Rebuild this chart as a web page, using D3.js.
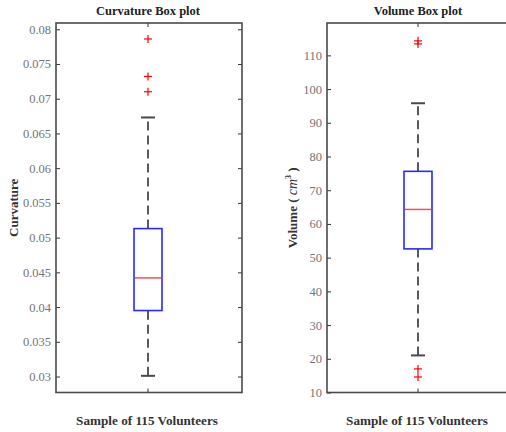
<!DOCTYPE html>
<html>
<head>
<meta charset="utf-8">
<script src="https://cdn.jsdelivr.net/npm/d3@7"></script>
<style>
  body { margin: 0; background: #fff; }
  svg { display: block; }
</style>
</head>
<body>
<div id="chart"></div>
<script>
// values
// box = [lower whisker, q1, median, q3, upper whisker]
var titles = ["Curvature Box plot", "Volume Box plot"];
var xLabel = "Sample of 115 Volunteers";

var curvatureBox = [0.0301, 0.0395, 0.0442, 0.0513, 0.0673];
var curvatureOutliers = [0.0710, 0.0732, 0.0786];
var curvatureTicks = [0.03, 0.035, 0.04, 0.045, 0.05, 0.055, 0.06, 0.065, 0.07, 0.075, 0.08];
var curvatureDomain = [0.0277, 0.0809];

var volumeBox = [21.0, 52.6, 64.3, 75.6, 95.8];
var volumeOutliers = [14.6, 17.0, 113.4, 114.3];
var volumeTicks = [10, 20, 30, 40, 50, 60, 70, 80, 90, 100, 110];
var volumeDomain = [10, 119.6];

var W = 506, H = 432;
var serif = "'Liberation Serif', 'DejaVu Serif', serif";

var svg = d3.select("#chart").append("svg")
    .attr("width", W)
    .attr("height", H);

function panel(opt) {
    var left = opt.left, right = opt.right, top = 23, bottom = 392.5;
    var g = svg.append("g");

    var y = d3.scaleLinear().domain(opt.domain).range([bottom, top]);
    var x = d3.scalePoint().domain([0]).range([left, right]).padding(0.5);
    var cx = x(0) - 1;

    // ticks on left and right, inward
    var yAxisL = d3.axisLeft(y).tickValues(opt.ticks).tickSize(-4).tickPadding(5)
        .tickFormat(function(d) { return String(d); });
    var ga = g.append("g").attr("transform", "translate(" + left + ",0)").call(yAxisL);
    ga.select(".domain").remove();
    ga.selectAll(".tick line").attr("stroke", "#333").attr("stroke-width", 1);
    ga.selectAll(".tick text")
        .attr("font-family", serif).attr("font-size", 12.5).attr("fill", "#757575");

    var gr = g.append("g").attr("transform", "translate(" + right + ",0)")
        .call(d3.axisRight(y).tickValues(opt.ticks).tickSize(-4).tickFormat(""));
    gr.select(".domain").remove();
    gr.selectAll(".tick line").attr("stroke", "#333").attr("stroke-width", 1);

    // top / bottom tick at the box position
    g.append("line").attr("x1", cx).attr("x2", cx).attr("y1", top).attr("y2", top + 4)
        .attr("stroke", "#333");
    g.append("line").attr("x1", cx).attr("x2", cx).attr("y1", bottom).attr("y2", bottom - 4)
        .attr("stroke", "#333");

    // frame
    g.append("rect").attr("x", left).attr("y", top)
        .attr("width", right - left).attr("height", bottom - top)
        .attr("fill", "none").attr("stroke", "#4a4a4a").attr("stroke-width", 1.6);

    var b = opt.box;
    var bw = opt.boxWidth;

    // whiskers
    g.selectAll(".whisker").data([[b[0], b[1]], [b[3], b[4]]]).enter().append("line")
        .attr("x1", cx).attr("x2", cx)
        .attr("y1", function(d) { return y(d[0]); })
        .attr("y2", function(d) { return y(d[1]); })
        .attr("stroke", "#5a5a5a").attr("stroke-width", 2)
        .attr("stroke-dasharray", "9,5");
    g.selectAll(".cap").data([b[0], b[4]]).enter().append("line")
        .attr("x1", cx - 7).attr("x2", cx + 7)
        .attr("y1", function(d) { return y(d); })
        .attr("y2", function(d) { return y(d); })
        .attr("stroke", "#4a4a4a").attr("stroke-width", 2);

    // box
    g.append("rect").attr("x", cx - bw / 2).attr("y", y(b[3]))
        .attr("width", bw).attr("height", y(b[1]) - y(b[3]))
        .attr("fill", "#fff").attr("stroke", "#2a2aff").attr("stroke-width", 1.6);
    g.append("line").attr("x1", cx - bw / 2 + 1).attr("x2", cx + bw / 2 - 1)
        .attr("y1", y(b[2])).attr("y2", y(b[2]))
        .attr("stroke", "#ff4d4d").attr("stroke-width", 1.5);

    // outliers
    var o = g.selectAll(".outlier").data(opt.outliers).enter().append("g")
        .attr("transform", function(d) { return "translate(" + cx + "," + y(d) + ")"; });
    o.append("line").attr("x1", -4).attr("x2", 4).attr("stroke", "#ff0000").attr("stroke-width", 1.2);
    o.append("line").attr("y1", -4).attr("y2", 4).attr("stroke", "#ff0000").attr("stroke-width", 1.2);

    // title and x label
    g.append("text").attr("x", cx).attr("y", 15).attr("text-anchor", "middle")
        .attr("font-family", serif).attr("font-weight", "bold").attr("font-size", 12.5)
        .attr("fill", "#222").text(opt.title);
    g.append("text").attr("x", cx - 1).attr("y", 425).attr("text-anchor", "middle")
        .attr("font-family", serif).attr("font-weight", "bold").attr("font-size", 13.2)
        .attr("fill", "#333").text(xLabel);

    // y label
    var yl = g.append("text")
        .attr("transform", "translate(" + opt.yLabelX + "," + ((top + bottom) / 2) + ") rotate(-90)")
        .attr("text-anchor", "middle")
        .attr("font-family", serif).attr("font-weight", "bold").attr("font-size", 13)
        .attr("fill", "#333");
    opt.yLabel(yl);
}

panel({
    left: 56, right: 242, domain: curvatureDomain, ticks: curvatureTicks,
    box: curvatureBox, outliers: curvatureOutliers, boxWidth: 28,
    title: titles[0], yLabelX: 18,
    yLabel: function(t) { t.text("Curvature"); }
});

panel({
    left: 327, right: 511, domain: volumeDomain, ticks: volumeTicks,
    box: volumeBox, outliers: volumeOutliers, boxWidth: 28,
    title: titles[1], yLabelX: 297,
    yLabel: function(t) {
        t.append("tspan").text("Volume ( ");
        t.append("tspan").attr("font-style", "italic").attr("font-weight", "normal")
            .attr("font-size", 14).text("cm");
        t.append("tspan").attr("font-size", 8).attr("dy", -6).text("3");
        t.append("tspan").attr("dy", 6).text(" )");
    }
});
</script>
</body>
</html>
